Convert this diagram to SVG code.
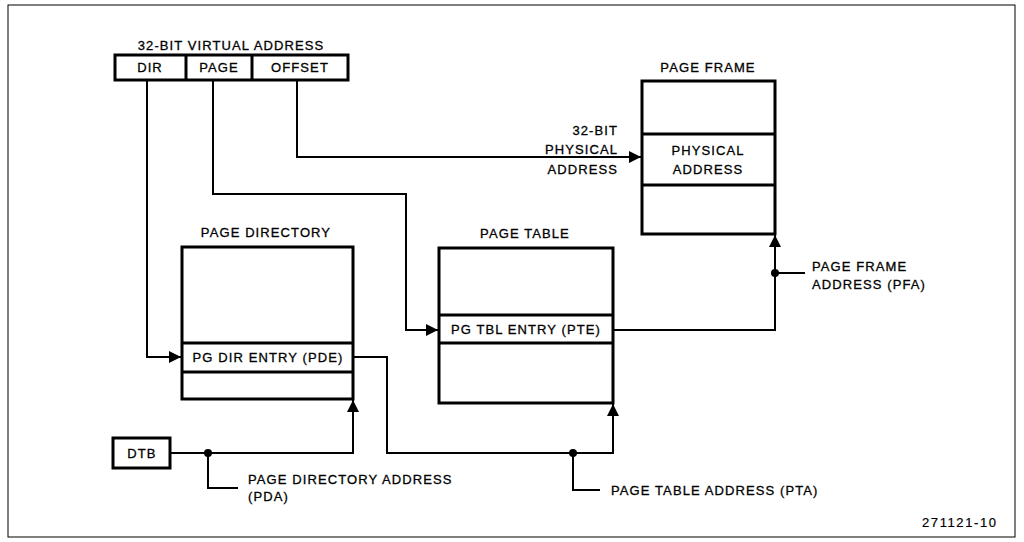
<svg xmlns="http://www.w3.org/2000/svg" width="1024" height="542" viewBox="0 0 1024 542">
<defs>
<style>
text{font-family:"Liberation Sans","DejaVu Sans",Arial,sans-serif;font-size:13px;fill:#000;stroke:#000;stroke-width:0.3;letter-spacing:1.1px}
.c{text-anchor:middle}
.r{text-anchor:end}
.box{fill:#fff;stroke:#000;stroke-width:3}
.div{stroke:#000;stroke-width:3;fill:none}
.ln{fill:none;stroke:#000;stroke-width:2}
.arr{fill:none;stroke:#000;stroke-width:2;marker-end:url(#ah)}
</style>
<marker id="ah" markerUnits="userSpaceOnUse" markerWidth="12" markerHeight="12" refX="10" refY="5" orient="auto" viewBox="0 0 10 10">
<path d="M0,0 L10,5 L0,10 Z" fill="#000"/>
</marker>
</defs>
<rect x="0" y="0" width="1024" height="542" fill="#fff"/>
<rect x="8" y="5" width="1007" height="532" fill="none" stroke="#000" stroke-width="1"/>

<g id="connectors">
<polyline class="arr" points="147,80 147,357 181,357"/>
<polyline class="arr" points="213,80 213,194 406,194 406,330 438,330"/>
<polyline class="arr" points="297,80 297,157 641,157"/>
<polyline class="arr" points="353,357 387,357 387,453 613,453 613,404"/>
<polyline class="arr" points="170,453 353,453 353,400"/>
<polyline class="arr" points="613,330 775,330 775,235"/>
<polyline class="ln" points="208,453 208,488 238,488"/>
<polyline class="ln" points="573,453 573,490 600,490"/>
<line class="ln" x1="775" y1="273" x2="805" y2="273"/>
<circle cx="208" cy="453" r="4"/>
<circle cx="573" cy="453" r="4"/>
<circle cx="775" cy="273" r="4"/>
</g>

<g id="virtual-address">
<text class="c" x="231" y="50">32-BIT VIRTUAL ADDRESS</text>
<rect class="box" x="115" y="55" width="233" height="25"/>
<line class="div" x1="186" y1="55" x2="186" y2="80"/>
<line class="div" x1="252" y1="55" x2="252" y2="80"/>
<text class="c" x="150" y="72">DIR</text>
<text class="c" x="219" y="72">PAGE</text>
<text class="c" x="300" y="72">OFFSET</text>
</g>

<g id="page-frame">
<text class="c" x="708" y="72">PAGE FRAME</text>
<rect class="box" x="642" y="81" width="133" height="153"/>
<line class="div" x1="642" y1="134" x2="775" y2="134"/>
<line class="div" x1="642" y1="185" x2="775" y2="185"/>
<text class="c" x="708" y="155">PHYSICAL</text>
<text class="c" x="708" y="174">ADDRESS</text>
</g>

<g id="physical-label">
<text class="r" x="618" y="135">32-BIT</text>
<text class="r" x="618" y="154">PHYSICAL</text>
<text class="r" x="618" y="174">ADDRESS</text>
</g>

<g id="page-directory">
<text class="c" x="266" y="237">PAGE DIRECTORY</text>
<rect class="box" x="182" y="247" width="171" height="152"/>
<line class="div" x1="182" y1="343" x2="353" y2="343"/>
<line class="div" x1="182" y1="372" x2="353" y2="372"/>
<text class="c" x="268" y="362">PG DIR ENTRY (PDE)</text>
</g>

<g id="page-table">
<text class="c" x="525" y="238">PAGE TABLE</text>
<rect class="box" x="439" y="248" width="174" height="155"/>
<line class="div" x1="439" y1="315" x2="613" y2="315"/>
<line class="div" x1="439" y1="343" x2="613" y2="343"/>
<text class="c" x="526" y="334">PG TBL ENTRY (PTE)</text>
</g>

<g id="dtb">
<rect class="box" x="113" y="438" width="57" height="30"/>
<text class="c" x="142" y="458">DTB</text>
</g>

<g id="labels">
<text x="248" y="484">PAGE DIRECTORY ADDRESS</text>
<text x="248" y="501">(PDA)</text>
<text x="611" y="495">PAGE TABLE ADDRESS (PTA)</text>
<text x="812" y="271">PAGE FRAME</text>
<text x="812" y="289">ADDRESS (PFA)</text>
<text x="922" y="527" style="stroke-width:0.2;letter-spacing:1.6px">271121-10</text>
</g>
</svg>
